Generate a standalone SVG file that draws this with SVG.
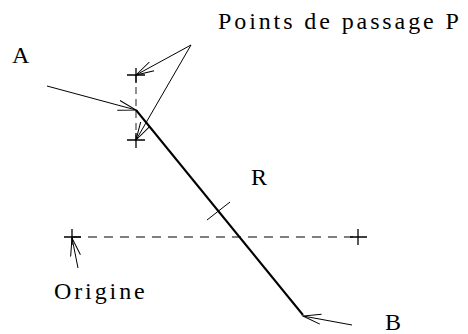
<svg xmlns="http://www.w3.org/2000/svg" width="468" height="334" viewBox="0 0 468 334">
<style>
.t{font-family:'Liberation Serif',serif;font-size:24px;fill:#000;letter-spacing:2.9px}
.ln{stroke:#000;stroke-width:1;fill:none}
.thick{stroke:#000;stroke-width:2;fill:none}
.dash{stroke:#555;stroke-width:1.3;fill:none;stroke-dasharray:9,7}
.vdash{stroke:#555;stroke-width:1.3;fill:none;stroke-dasharray:7,5}
.cross{stroke:#000;stroke-width:1.3;fill:none}
</style>
<defs>
<marker id="ah" markerWidth="20" markerHeight="12" refX="18" refY="6" orient="auto" markerUnits="userSpaceOnUse">
<path d="M0,1 L18,6 L0,11" fill="none" stroke="#000" stroke-width="1"/>
</marker>
</defs>
<rect width="468" height="334" fill="#fff"/>
<g id="labels" font-family="Liberation Serif">
<text class="t" x="218" y="29">Points de passage P</text>
<text class="t" x="12" y="63">A</text>
<text class="t" x="251" y="185">R</text>
<text class="t" x="54" y="299">Origine</text>
<text class="t" x="385" y="330">B</text>
</g>
<g id="guides">
<path class="vdash" d="M136,75 V140"/>
<path class="dash" d="M72,237 H358"/>
</g>
<g id="crosses">
<path class="cross" d="M127,75 H145 M136,68 V83"/>
<path class="cross" d="M127,140 H145 M136,133 V148"/>
<path class="cross" d="M64,237 H81 M72,229 V245"/>
<path class="cross" d="M350,237 H367 M358,229 V245"/>
</g>
<g id="path-R">
<path class="thick" d="M136,110 L303,315"/>
<path class="ln" d="M207,220 L230,202"/>
</g>
<g id="connectors">
<path class="ln" d="M47,86 L136,110" marker-end="url(#ah)"/>
<path class="ln" d="M191,45 L136,75" marker-end="url(#ah)"/>
<path class="ln" d="M191,45 L136,140" marker-end="url(#ah)"/>
<path class="ln" d="M78,268 L72,238" marker-end="url(#ah)"/>
<path class="ln" d="M352,325 L303,316" marker-end="url(#ah)"/>
</g>
</svg>
